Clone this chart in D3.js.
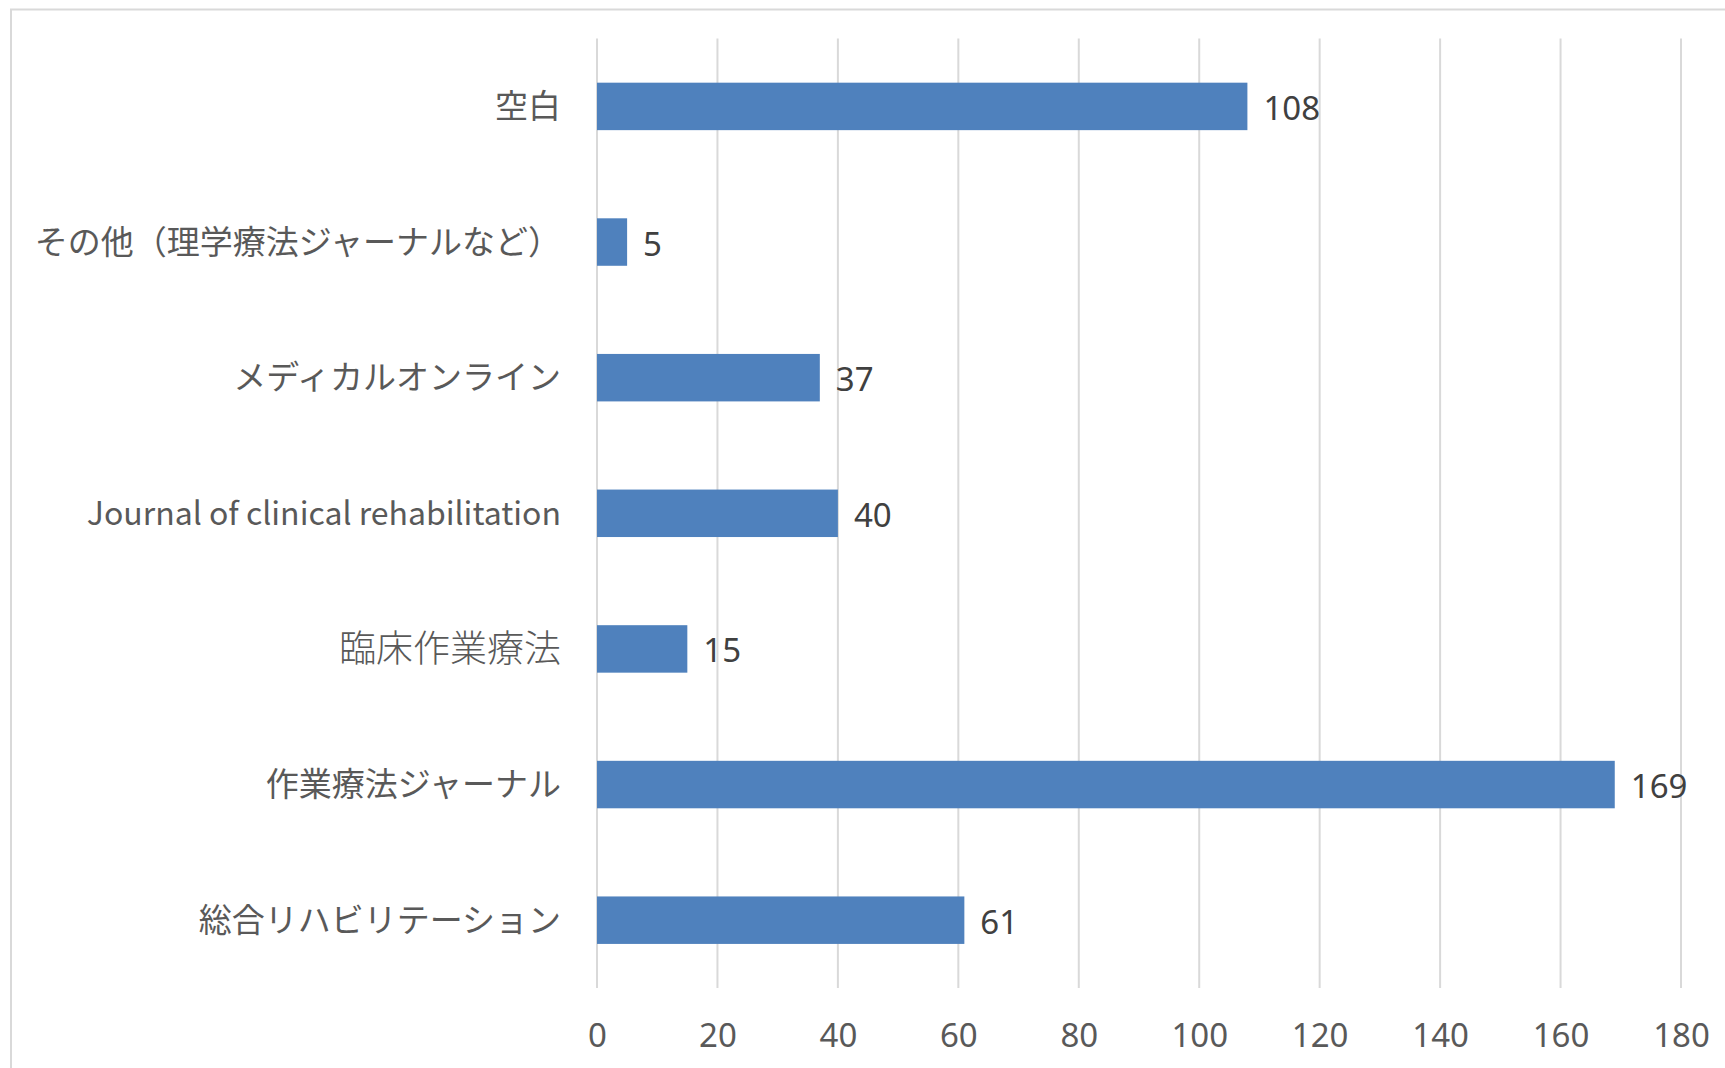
<!DOCTYPE html>
<html><head><meta charset="utf-8">
<script src="https://cdn.jsdelivr.net/npm/d3@7"></script>
<style>body{margin:0;background:#fff;overflow:hidden}</style>
</head><body>
<svg id="c" width="1725" height="1068"></svg>
<script>
const categories = ["空白","その他（理学療法ジャーナルなど）","メディカルオンライン","Journal of clinical rehabilitation","臨床作業療法","作業療法ジャーナル","総合リハビリテーション"];
const values = [108,5,37,40,15,169,61];
const tickValues = [0,20,40,60,80,100,120,140,160,180];

const svg = d3.select("#c");
svg.append("rect").attr("x",11).attr("y",9.5).attr("width",1760).attr("height",1100)
  .attr("fill","#fff").attr("stroke","#d9d9d9").attr("stroke-width",2);

const x = d3.scaleLinear().domain([0,180]).range([597,1681]);
const y = d3.scaleBand().domain(categories).range([38.6,988]).paddingInner(0.65).paddingOuter(0.325);

const numFont = "'Noto Sans','Open Sans',sans-serif";
const jpFont = "'Noto Sans CJK JP','Noto Sans',sans-serif";

// gridlines
svg.append("g").selectAll("line").data(tickValues).join("line")
  .attr("x1",d=>x(d)).attr("x2",d=>x(d)).attr("y1",38.6).attr("y2",988)
  .attr("stroke","#d9d9d9").attr("stroke-width",2);

// x axis labels
const xa = svg.append("g").attr("transform","translate(0,1035)")
  .call(d3.axisBottom(x).tickValues(tickValues).tickSize(0).tickPadding(0));
xa.select(".domain").remove();
xa.selectAll("text").attr("dy","0.35em").attr("font-family",numFont).attr("font-size",33).attr("fill","#595959");

// bars
svg.append("g").selectAll("rect").data(values).join("rect")
  .attr("x",x(0)).attr("y",(d,i)=>y(categories[i]))
  .attr("width",d=>x(d)-x(0)).attr("height",y.bandwidth())
  .attr("fill","#4f81bd");

// value labels
svg.append("g").selectAll("text").data(values).join("text")
  .attr("x",d=>x(d)+16).attr("y",(d,i)=>y(categories[i])+y.bandwidth()/2+2)
  .attr("dy","0.35em").attr("font-family",numFont).attr("font-size",33).attr("fill","#404040")
  .text(d=>d);

// category labels
const ya = svg.append("g").attr("transform","translate(561,0)")
  .call(d3.axisLeft(y).tickSize(0).tickPadding(0));
ya.select(".domain").remove();
ya.selectAll("text").attr("font-family",jpFont).attr("fill","#595959")
  .attr("font-size",d=>d.startsWith("Journal")?32:(d==="臨床作業療法"?37:33))
  .attr("font-weight",d=>d==="臨床作業療法"?300:400)
  .attr("dy","0.35em");
</script>
</body></html>
